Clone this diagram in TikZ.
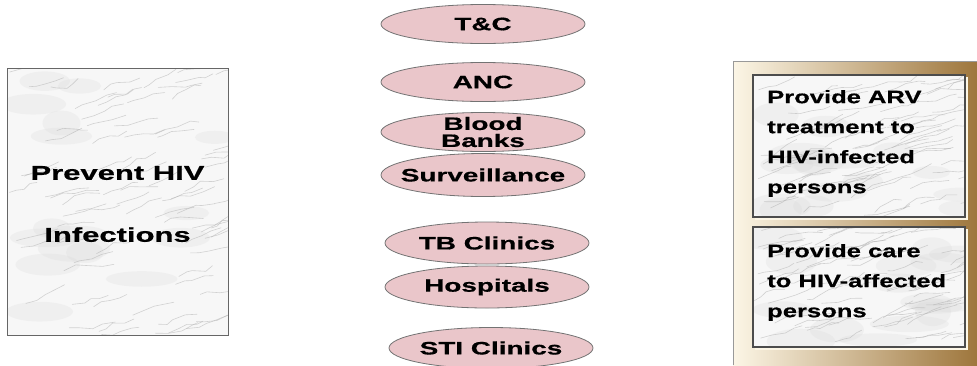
\documentclass[tikz,border=0pt]{standalone}
\usepackage{fontspec}
\setmainfont{Liberation Sans}
\newfontfamily\widefont{Liberation Sans}[FakeStretch=1.55, FakeBold=0.6]
\newfontfamily\goalfont{Liberation Sans}[FakeStretch=1.42, FakeBold=0.6]
\usetikzlibrary{shapes.geometric}

\definecolor{clinicpink}{RGB}{234,198,202}
\definecolor{framecream}{RGB}{252,246,230}
\definecolor{framemid}{RGB}{232,212,172}
\definecolor{framegold}{RGB}{158,118,60}

\tikzset{
  clinic/.style={ellipse, draw=black!55, line width=0.8pt, fill=clinicpink,
    minimum width=204pt, minimum height=39pt, inner xsep=-14pt, inner ysep=-5pt, align=center,
    font=\widefont\bfseries\fontsize{18}{17}\selectfont},
  goalbox/.style={draw=black!70, line width=1.1pt},
  goaltext/.style={anchor=west, align=left, inner sep=0pt,
    font=\goalfont\bfseries\fontsize{18}{30}\selectfont},
  vein/.style={gray!65, line width=0.6pt, opacity=0.5, line cap=round, line join=round},
  blotch/.style={gray!30, opacity=0.25},
}

% marble texture inside a rectangle
\newcommand{\marble}[4]{%
  \begin{scope}
    \clip (#1,#2) rectangle (#3,#4);
    \fill[gray!6] (#1,#2) rectangle (#3,#4);
    \foreach \b in {1,...,16}{
      \fill[blotch] ({#1+rnd*(#3-#1)},{#2+rnd*(#4-#2)}) ellipse ({18+rnd*22} and {6+rnd*8});
    }
    \foreach \v in {1,...,80}{
      \draw[vein] ({#1+rnd*(#3-#1)},{#2+rnd*(#4-#2)})
        -- ++({5+9*rnd},{-6+7*rnd}) -- ++({5+9*rnd},{-6+7*rnd})
        -- ++({5+9*rnd},{-6+7*rnd}) -- ++({5+9*rnd},{-6+7*rnd});
    }
  \end{scope}}

\begin{document}
\begin{tikzpicture}[x=1pt, y=-1pt]
  \useasboundingbox (0,0) rectangle (977,365);
  \pgfmathsetseed{11}

  % left goal
  \marble{7}{68}{228}{335}
  \draw[draw=black!60, line width=0.8pt] (7,68) rectangle (228,335);
  \node[align=center, font=\widefont\bfseries\fontsize{20}{62}\selectfont] (prevent) at (117.5,204) {Prevent HIV\\Infections};

  % service points
  \node[clinic] (tc) at (483,24) {T\&C};
  \node[clinic] (anc) at (483,82) {ANC};
  \node[clinic] (blood) at (483,132) {Blood\\Banks};
  \node[clinic, minimum height=43pt] (surv) at (483,175) {Surveillance};
  \node[clinic, minimum height=42pt] (tb) at (487,243) {TB Clinics};
  \node[clinic, minimum height=42pt] (hosp) at (487,287) {Hospitals};
  \node[clinic, minimum height=41pt] (sti) at (491,348) {STI Clinics};

  % right frame
  \shade[left color=framecream, middle color=framemid, right color=framegold] (733,61) rectangle (977,365);
  \draw[black!40, line width=0.8pt] (733,365) -- (733,61) -- (977,61);
  \draw[framecream, line width=1.4pt] (967,77) -- (967,219) -- (755,219);
  \draw[framecream, line width=1.4pt] (967,229) -- (967,349) -- (755,349);

  \marble{753}{75}{965}{217}
  \draw[goalbox] (753,75) rectangle (965,217);
  \node[goaltext] (arv) at (767,143.5) {Provide ARV\\treatment to\\HIV-infected\\persons};

  \marble{753}{227}{965}{347}
  \draw[goalbox] (753,227) rectangle (965,347);
  \node[goaltext] (care) at (767,282.5) {Provide care\\to HIV-affected\\persons};
\end{tikzpicture}
\end{document}
